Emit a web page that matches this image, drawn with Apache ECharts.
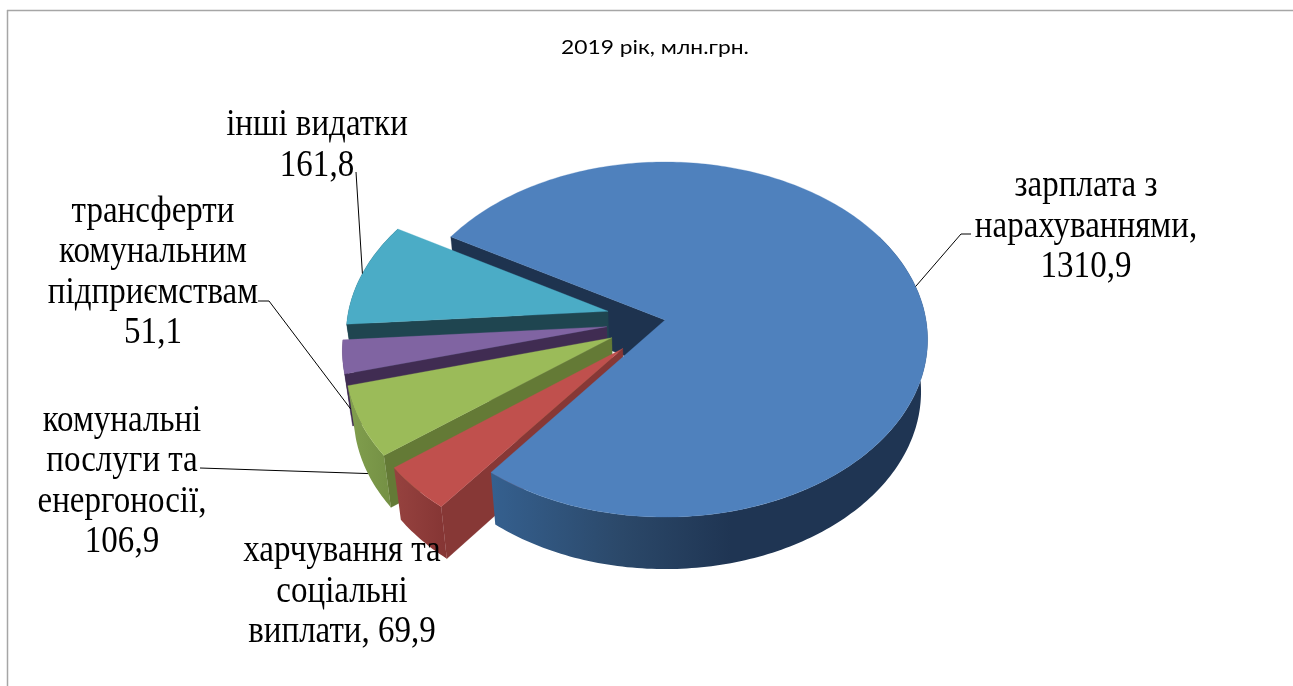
<!DOCTYPE html>
<html>
<head>
<meta charset="utf-8">
<title>2019 рік, млн.грн.</title>
<script src="https://cdn.jsdelivr.net/npm/echarts@6/dist/echarts.min.js"></script>
<style>
  html, body { margin: 0; padding: 0; background: #fff; }
  #chart { width: 1293px; height: 686px; }
</style>
</head>
<body>
<div id="chart"></div>
<script>
const chartTitle = '2019 рік, млн.грн.';
const categories = ['зарплата з нарахуваннями', 'харчування та соціальні виплати', 'комунальні послуги та енергоносії', 'трансферти комунальним підприємствам', 'інші видатки'];
const values = [1310.9, 69.9, 106.9, 51.1, 161.8];
const labelPrefix = ['зарплата з\nнарахуваннями,\n', 'харчування та\nсоціальні\nвиплати, ', 'комунальні\nпослуги та\nенергоносії,\n', 'трансферти\nкомунальним\nпідприємствам\n', 'інші видатки\n'];

// slice colours: top face, radial wall, outer wall left / right
const topColors = ['#4f81bd', '#c0504d', '#9bbb59', '#8064a2', '#4bacc6'];
const radialColors = ['#1e334f', '#873836', '#647a36', '#402c52', '#1f4550'];
const wallLeft = ['#35608f', '#96423f', '#819f4e', '#402c52', '#1f4550'];
const wallRight = ['#1f3553', '#853534', '#749044', '#402c52', '#1f4550'];

// projection of the tilted disc
const CX = 665, CY = 320, RX = 261, RY = 175.4, PERSP = 0.11, DEPTH = 52, BOTTOM_SCALE = 0.975;
const START_ANGLE = 300, EXPLODE = 0.225;

// label layout
const labelX = [1086, 342, 122, 153, 317];
const labelY = [227, 592, 482, 273, 146];
// leader: label side points, and whether it lands on the bottom rim of the slice
const leaderStart = [[971, 234], null, [200, 468], [258, 301], [356, 172]];
const leaderKnee = [[961, 234], null, null, [269, 301], null];
const leaderBottom = [false, false, true, true, false];

const total = values.reduce(function (a, b) { return a + b; }, 0);
const slices = [];
let cur = START_ANGLE;
values.forEach(function (v, i) {
  const a1 = cur + v / total * 360;
  const mid = (cur + a1) / 2;
  const e = i === 0 ? 0 : EXPLODE;
  slices.push({
    a0: cur, a1: a1, mid: mid,
    ou: e * Math.sin(mid * Math.PI / 180),
    ov: -e * Math.cos(mid * Math.PI / 180)
  });
  cur = a1;
});

function project(u, v, bottom) {
  const w = 1 - PERSP * v;
  let x = CX + RX * u / w;
  let y = CY + RY * v / w;
  if (bottom) {
    x = CX + (x - CX) * BOTTOM_SCALE;
    y += DEPTH;
  }
  return [x, y];
}
function rim(s, deg, bottom) {
  const r = deg * Math.PI / 180;
  return project(s.ou + Math.sin(r), s.ov - Math.cos(r), bottom);
}
function arc(s, from, to, bottom) {
  const pts = [];
  const n = Math.ceil(to - from);
  for (let k = 0; k <= n; k++) {
    pts.push(rim(s, from + (to - from) * k / n, bottom));
  }
  return pts;
}
function poly(points, fill, z2) {
  return { type: 'polygon', z2: z2, silent: true, shape: { points: points }, style: { fill: fill, stroke: fill, lineWidth: 0.3 } };
}

function renderSlice(params, api) {
  const i = params.dataIndex;
  const s = slices[i];
  // far slices first: teal, purple, green, red. blue's cut wall goes behind them, the rest of it in front
  const base = i === 0 ? 0 : (10 + (5 - i) * 10);
  const front = i === 0 ? 80 : base;
  const apex = project(s.ou, s.ov, false);
  const apexB = project(s.ou, s.ov, true);
  const children = [];

  children.push(poly([apex, rim(s, s.a0, false), rim(s, s.a0, true), apexB], radialColors[i], base + 1));

  const wallFrom = Math.max(s.a0, 420);
  const wallPts = arc(s, wallFrom, s.a1, false).concat(arc(s, wallFrom, s.a1, true).reverse());
  const wall = poly(wallPts, {
    type: 'linear', x: 0, y: 0, x2: 1, y2: 0,
    colorStops: i === 0
      ? [{ offset: 0, color: wallLeft[i] }, { offset: 0.3, color: '#2b4869' }, { offset: 0.55, color: wallRight[i] }, { offset: 1, color: wallRight[i] }]
      : [{ offset: 0, color: wallLeft[i] }, { offset: 1, color: wallRight[i] }]
  }, front + 2);
  wall.style.stroke = null;
  wall.style.lineWidth = 0;
  children.push(wall);

  children.push(poly([apex].concat(arc(s, s.a0, s.a1, false)), topColors[i], front + 3));

  if (leaderStart[i]) {
    const end = rim(s, s.mid, leaderBottom[i]);
    const pts = [leaderStart[i]];
    if (leaderKnee[i]) pts.push(leaderKnee[i]);
    pts.push(end);
    children.push({ type: 'polyline', z2: 200, silent: true, shape: { points: pts }, style: { stroke: '#000', lineWidth: 1, fill: null } });
  }

  // the source text is narrower than the font: tall glyphs squeezed sideways
  children.push({
    type: 'text', z2: 210, silent: true, x: labelX[i], y: labelY[i], scaleX: 0.892,
    style: {
      text: labelPrefix[i] + api.value(1).toFixed(1).replace('.', ','),
      fontFamily: '"Liberation Serif"', fontSize: 37, lineHeight: 40.5, fill: '#000',
      textAlign: 'center', textVerticalAlign: 'middle'
    }
  });
  return { type: 'group', children: children };
}

const myChart = echarts.init(document.getElementById('chart'), null, { renderer: 'canvas' });
myChart.setOption({
  animation: false,
  backgroundColor: '#fff',
  graphic: [
    { type: 'line', shape: { x1: 7.5, y1: 10, x2: 7.5, y2: 686 }, style: { stroke: '#a6a6a6', lineWidth: 1.5 }, silent: true },
    { type: 'line', shape: { x1: 7, y1: 10.5, x2: 1293, y2: 10.5 }, style: { stroke: '#a6a6a6', lineWidth: 1.5 }, silent: true },
    {
      type: 'text', x: 655, y: 48, scaleX: 1.14, silent: true,
      style: { text: chartTitle, fontFamily: 'Lato, "Open Sans"', fontSize: 20, fill: '#000', textAlign: 'center', textVerticalAlign: 'middle' }
    }
  ],
  series: [{
    type: 'custom',
    coordinateSystem: 'none',
    renderItem: renderSlice,
    data: categories.map(function (c, i) { return { name: c, value: [i, values[i]] }; })
  }]
});
</script>
</body>
</html>
